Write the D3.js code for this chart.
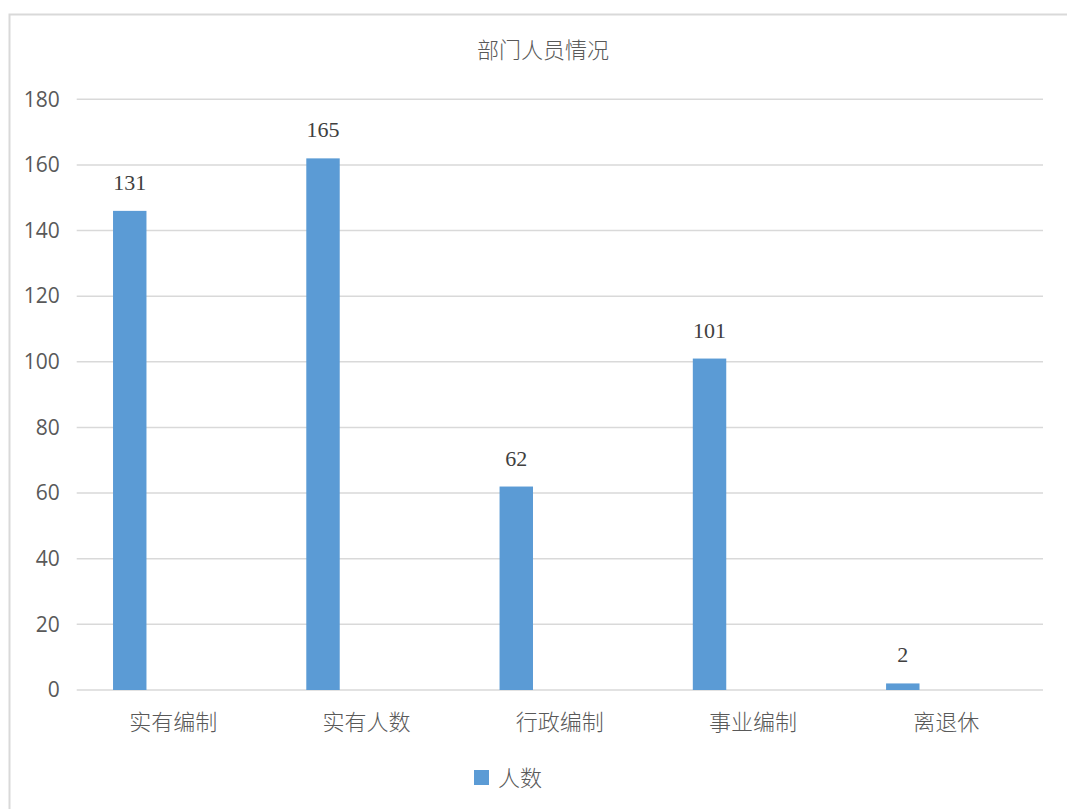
<!DOCTYPE html>
<html>
<head>
<meta charset="utf-8">
<script src="https://cdn.jsdelivr.net/npm/d3@7"></script>
<style>
  html, body { margin: 0; padding: 0; background: #fff; }
  svg { display: block; }
</style>
</head>
<body>
<svg width="1067" height="809"></svg>
<script>
// 部门人员情况 柱状图

var categories = ["实有编制", "实有人数", "行政编制", "事业编制", "离退休"];
var barValues = [146, 162, 62, 101, 2];      // 柱子高度
var labelValues = [131, 165, 62, 101, 2];    // 柱顶标注
var yTicks = [0, 20, 40, 60, 80, 100, 120, 140, 160, 180];
var seriesName = "人数";
var title = "部门人员情况";

var svg = d3.select("svg");
var textColor = "#595959";
var gridColor = "#d9d9d9";
var barColor = "#5b9bd5";
var cjk = "'Noto Sans CJK SC', sans-serif";

// 外框
svg.append("rect")
  .attr("x", 9.5)
  .attr("y", 14.5)
  .attr("width", 1070)
  .attr("height", 810)
  .attr("fill", "none")
  .attr("stroke", gridColor)
  .attr("stroke-width", 2);

// 绘图区 (注意不要用 top 做变量名，会和 window.top 冲突)
var plotL = 76.7, plotR = 1043, plotT = 99.3, plotB = 690;

var x = d3.scaleBand()
  .domain(categories)
  .range([plotL, plotR])
  .padding(0);

var y = d3.scaleLinear()
  .domain([0, 180])
  .range([plotB, plotT]);

// 标题
svg.append("text")
  .attr("x", 543)
  .attr("y", 50)
  .attr("dy", "0.35em")
  .attr("text-anchor", "middle")
  .attr("font-family", cjk)
  .attr("font-weight", 300)
  .attr("font-size", 22)
  .attr("fill", textColor)
  .text(title);

// 网格线
svg.append("g")
  .selectAll("line")
  .data(yTicks)
  .enter()
  .append("line")
  .attr("x1", plotL)
  .attr("x2", plotR)
  .attr("y1", d => y(d))
  .attr("y2", d => y(d))
  .attr("stroke", gridColor)
  .attr("stroke-width", 1.5);

// y轴刻度
var yAxis = svg.append("g")
  .attr("transform", `translate(${plotL - 17},0)`)
  .call(d3.axisLeft(y).tickValues(yTicks).tickSize(0).tickPadding(0));
yAxis.select(".domain").remove();
yAxis.selectAll("text")
  .attr("font-family", "'Open Sans', 'Noto Sans', sans-serif")
  .attr("font-size", 21)
  .attr("fill", textColor);

// 柱子
var bw = x.bandwidth();
svg.append("g")
  .selectAll("rect")
  .data(barValues)
  .enter()
  .append("rect")
  .attr("x", (d, i) => x(categories[i]) + bw * 0.188)
  .attr("y", d => y(d))
  .attr("width", bw * 0.173)
  .attr("height", d => y(0) - y(d))
  .attr("fill", barColor);

// 柱顶数值
svg.append("g")
  .selectAll("text")
  .data(labelValues)
  .enter()
  .append("text")
  .attr("x", (d, i) => x(categories[i]) + bw * 0.2745)
  .attr("y", (d, i) => y(barValues[i]) - 21)
  .attr("text-anchor", "middle")
  .attr("font-family", "'Liberation Serif', 'DejaVu Serif', serif")
  .attr("font-size", 22)
  .attr("fill", "#404040")
  .text(d => d);

// x轴类别
var xAxis = svg.append("g")
  .attr("transform", `translate(0,${plotB + 32})`)
  .call(d3.axisBottom(x).tickSize(0).tickPadding(0));
xAxis.select(".domain").remove();
xAxis.selectAll("text")
  .attr("dy", "0.35em")
  .attr("font-family", cjk)
  .attr("font-weight", 300)
  .attr("font-size", 22)
  .attr("fill", textColor);

// 图例
var legend = svg.append("g").attr("transform", "translate(474,770)");
legend.append("rect")
  .attr("width", 15)
  .attr("height", 15)
  .attr("fill", barColor);
legend.append("text")
  .attr("x", 24)
  .attr("y", 8)
  .attr("dy", "0.35em")
  .attr("font-family", cjk)
  .attr("font-weight", 300)
  .attr("font-size", 22)
  .attr("fill", textColor)
  .text(seriesName);
</script>
</body>
</html>
